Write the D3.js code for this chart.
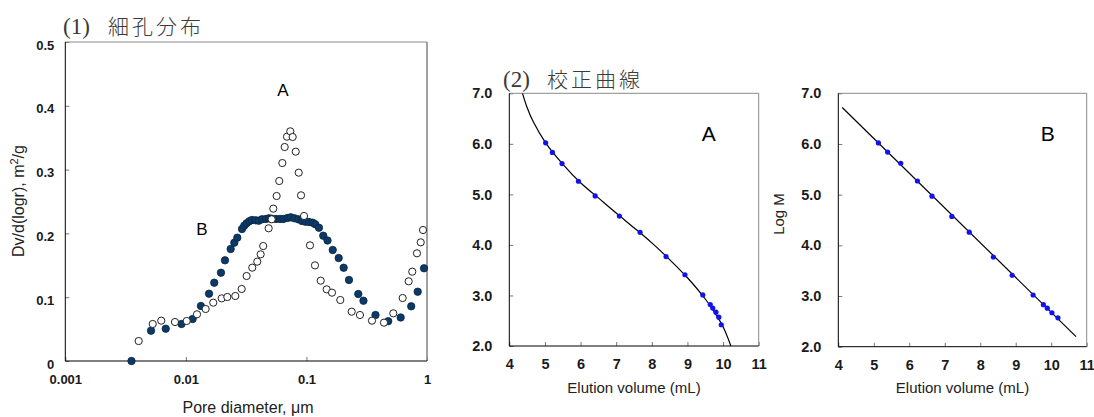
<!DOCTYPE html>
<html>
<head>
<meta charset="utf-8">
<script src="https://cdn.jsdelivr.net/npm/d3@7"></script>
<style>
  html, body { margin: 0; padding: 0; background: #fff; }
  svg { display: block; }
  .tick text { font-family: "Liberation Sans", Arial, sans-serif; font-weight: bold; fill: #1a1a1a; }
</style>
</head>
<body>
<svg id="fig" width="1094" height="417"></svg>
<script>
// ---- (1) pore size distribution ----
const poreTicks = [0.001, 0.01, 0.1, 1];
const poreTickLabels = ["0.001", "0.01", "0.1", "1"];
const distTicks = [0, 0.1, 0.2, 0.3, 0.4, 0.5];
const distTickLabels = ["0", "0.1", "0.2", "0.3", "0.4", "0.5"];

// sample B (filled circles)
const poreB = [0.00354, 0.00514, 0.00681, 0.00920, 0.01138, 0.01333, 0.01556, 0.0172, 0.01955, 0.0211,
  0.02353, 0.02522, 0.0267, 0.0292, 0.0305, 0.0319, 0.0336, 0.0353, 0.0379, 0.0402,
  0.0428, 0.0462, 0.0489, 0.0515, 0.0559, 0.0604, 0.0643, 0.0694, 0.0740, 0.0793,
  0.0855, 0.0918, 0.0981, 0.1049, 0.1127, 0.1184, 0.1270, 0.1379, 0.1496, 0.1652,
  0.1851, 0.2036, 0.2254, 0.2692, 0.2972, 0.3740, 0.4767, 0.6050, 0.7396, 0.8375, 0.9446];
const distB = [0, 0.0475, 0.0506, 0.0580, 0.0658, 0.0862, 0.1055, 0.1227, 0.1384, 0.1578,
  0.1755, 0.1854, 0.1933, 0.2069, 0.2121, 0.2158, 0.2190, 0.2210, 0.2205, 0.2199,
  0.2221, 0.2226, 0.2237, 0.2230, 0.2226, 0.2226, 0.2226, 0.2241, 0.2252, 0.2237,
  0.2221, 0.2194, 0.2183, 0.2179, 0.2168, 0.2143, 0.2089, 0.1964, 0.1889, 0.1740,
  0.1614, 0.1462, 0.1270, 0.1050, 0.0945, 0.0721, 0.0624, 0.0682, 0.0857, 0.1086, 0.1453];

// sample A (open circles)
const poreA = [0.00406, 0.00531, 0.00625, 0.00812, 0.01016, 0.01237, 0.01459, 0.01687, 0.01982, 0.02207,
  0.02570, 0.02904, 0.0319, 0.03554, 0.0391, 0.0417, 0.0438, 0.0486, 0.0515, 0.0531,
  0.0566, 0.0595, 0.0631, 0.0660, 0.0690, 0.0735, 0.0769, 0.0815, 0.0863, 0.0902,
  0.0955, 0.1070, 0.1177, 0.1313, 0.1472, 0.1629, 0.1909, 0.2373, 0.2780, 0.3497,
  0.4397, 0.5253, 0.6281, 0.7046, 0.7548, 0.8258, 0.8868, 0.9266];
const distA = [0.0313, 0.0580, 0.0632, 0.0611, 0.0627, 0.0732, 0.0815, 0.0914, 0.0982, 0.1003,
  0.1019, 0.1129, 0.1332, 0.1463, 0.1557, 0.1672, 0.1802, 0.2080, 0.2221, 0.2388,
  0.2586, 0.2821, 0.3103, 0.3354, 0.3516, 0.3600, 0.3511, 0.3281, 0.2952, 0.2597,
  0.2273, 0.1813, 0.1499, 0.1259, 0.1123, 0.1071, 0.0956, 0.0773, 0.0721, 0.0632,
  0.0601, 0.0747, 0.0987, 0.1249, 0.1400, 0.1688, 0.1860, 0.2053];

// ---- (2) calibration curves ----
const volTicks = [4, 5, 6, 7, 8, 9, 10, 11];
const logMTicks = [2, 3, 4, 5, 6, 7];
const logMTickLabels = ["2.0", "3.0", "4.0", "5.0", "6.0", "7.0"];

// column A: standards and fitted curve
const volA = [5.02, 5.21, 5.48, 5.94, 6.41, 7.09, 7.67, 8.40, 8.93, 9.43, 9.64, 9.71, 9.80, 9.88, 9.95];
const logMA = [6.02, 5.83, 5.61, 5.26, 4.97, 4.57, 4.25, 3.77, 3.41, 3.01, 2.82, 2.75, 2.67, 2.57, 2.42];
const fitVolA = [4.37, 4.5, 4.67, 5.02, 5.5, 6.0, 6.5, 7.0, 7.5, 8.0, 8.5, 9.0, 9.5, 9.8, 10.0, 10.22];
const fitLogMA = [7.0, 6.72, 6.44, 6.02, 5.60, 5.23, 4.93, 4.63, 4.34, 4.04, 3.71, 3.35, 2.93, 2.62, 2.38, 2.0];

// column B: standards and fitted line
const volB = [5.13, 5.39, 5.76, 6.23, 6.64, 7.20, 7.69, 8.37, 8.90, 9.49, 9.78, 9.89, 10.02, 10.19];
const logMB = [6.02, 5.84, 5.62, 5.27, 4.97, 4.57, 4.26, 3.77, 3.41, 3.02, 2.83, 2.76, 2.67, 2.57];
const fitVolB = [4.11, 10.70];
const fitLogMB = [6.72, 2.20];

const svg = d3.select("#fig");
const SANS = "'Liberation Sans', Arial, sans-serif";
const CJK = "'Noto Sans CJK JP', 'Noto Sans CJK SC', sans-serif";
const SERIF = "'Liberation Serif', 'DejaVu Serif', serif";

function frame(g, x0, x1, y0, y1, rightW) {
  g.append("line").attr("x1", x0).attr("x2", x1).attr("y1", y0).attr("y2", y0)
    .attr("stroke", "#8a8a8a").attr("stroke-width", 1);
  g.append("line").attr("x1", x1).attr("x2", x1).attr("y1", y0).attr("y2", y1)
    .attr("stroke", "#8a8a8a").attr("stroke-width", rightW || 1);
  g.append("line").attr("x1", x0).attr("x2", x0).attr("y1", y0).attr("y2", y1)
    .attr("stroke", "#000").attr("stroke-width", 1);
  g.append("line").attr("x1", x0).attr("x2", x1).attr("y1", y1).attr("y2", y1)
    .attr("stroke", "#000").attr("stroke-width", 1);
}

function styleAxis(g, size) {
  g.select(".domain").remove();
  g.selectAll(".tick line").attr("stroke", "#777");
  g.selectAll(".tick text").style("font-size", size + "px");
}

// panel heading: serif number in parentheses followed by the Japanese caption
function title(x, kx, y, num, kanji) {
  svg.append("text").attr("x", x).attr("y", y).attr("fill", "#3a3a3a")
    .style("font-family", SERIF).style("font-size", "23px").text(num);
  svg.append("text").attr("x", kx).attr("y", y).attr("fill", "#3a3a3a")
    .style("font-family", CJK).style("font-size", "21px").style("font-weight", "300")
    .style("letter-spacing", "3px").text(kanji);
}

// ===== Panel 1 =====
{
  const x = d3.scaleLog().domain([0.001, 1]).range([65.3, 427]);
  const y = d3.scaleLinear().domain([0, 0.5]).range([361, 42]);
  const g = svg.append("g");

  g.append("g").attr("transform", "translate(0,361)")
    .call(d3.axisBottom(x).tickValues(poreTicks).tickSize(-4).tickPadding(14)
      .tickFormat((d, i) => poreTickLabels[i]))
    .call(a => styleAxis(a, 13));
  g.append("g").attr("transform", "translate(65.3,0)")
    .call(d3.axisLeft(y).tickValues(distTicks).tickSize(-4).tickPadding(11)
      .tickFormat((d, i) => distTickLabels[i]))
    .call(a => styleAxis(a, 13))
    .selectAll(".tick text").attr("dy", "0.55em");

  frame(g, 65.3, 427, 42, 361, 1.6);

  g.append("g").selectAll("circle").data(poreB).join("circle")
    .attr("cx", d => x(d)).attr("cy", (d, i) => y(distB[i])).attr("r", 3.7)
    .attr("fill", "#0b3a68").attr("stroke", "#0a2440").attr("stroke-width", 0.8);
  g.append("g").selectAll("circle").data(poreA).join("circle")
    .attr("cx", d => x(d)).attr("cy", (d, i) => y(distA[i])).attr("r", 3.6)
    .attr("fill", "#fff").attr("stroke", "#222").attr("stroke-width", 1);

  g.append("text").attr("x", 283).attr("y", 96).attr("text-anchor", "middle")
    .style("font-family", SANS).style("font-size", "17px").text("A");
  g.append("text").attr("x", 202).attr("y", 235).attr("text-anchor", "middle")
    .style("font-family", SANS).style("font-size", "17px").text("B");

  g.append("text").attr("x", 248).attr("y", 413).attr("text-anchor", "middle")
    .style("font-family", SANS).style("font-size", "16px").attr("fill", "#222")
    .text("Pore diameter, μm");
  const yl = g.append("text").attr("transform", "translate(24,201) rotate(-90)")
    .attr("text-anchor", "middle").style("font-family", SANS).style("font-size", "16px")
    .attr("fill", "#222");
  yl.append("tspan").text("Dv/d(logr), m");
  yl.append("tspan").attr("dy", -6).style("font-size", "11px").text("2");
  yl.append("tspan").attr("dy", 6).text("/g");

  title(63, 108, 34, "(1)", "細孔分布");
}

// ===== Panels 2 and 3 =====
function calib(x0, x1, y0, y1, vols, logs, fitV, fitL, letter, curved, labelX, clipLeft) {
  const x = d3.scaleLinear().domain([4, 11]).range([x0, x1]);
  const y = d3.scaleLinear().domain([2, 7]).range([y1, y0]);
  const g = svg.append("g");

  g.append("g").attr("transform", `translate(0,${y1})`)
    .call(d3.axisBottom(x).tickValues(volTicks).tickSize(-4).tickPadding(13).tickFormat(d3.format("d")))
    .call(a => styleAxis(a, 14.5));
  g.append("g").attr("transform", `translate(${x0},0)`)
    .call(d3.axisLeft(y).tickValues(logMTicks).tickSize(-4).tickPadding(17)
      .tickFormat((d, i) => logMTickLabels[i]))
    .call(a => styleAxis(a, 14.5));

  frame(g, x0, x1, y0, y1, 1);

  const line = d3.line().x((d, i) => x(fitV[i])).y((d, i) => y(fitL[i]))
    .curve(curved ? d3.curveCatmullRom.alpha(0.5) : d3.curveLinear);
  g.append("path").datum(fitV).attr("d", line).attr("fill", "none")
    .attr("stroke", "#000").attr("stroke-width", 1.2);

  g.append("g").selectAll("circle").data(vols).join("circle")
    .attr("cx", d => x(d)).attr("cy", (d, i) => y(logs[i])).attr("r", 2.6)
    .attr("fill", "#1212f0");

  g.append("text").attr("x", x(labelX)).attr("y", 141).attr("text-anchor", "middle")
    .style("font-family", SANS).style("font-size", "21px").text(letter);

  g.append("text").attr("x", (x0 + x1) / 2).attr("y", 393).attr("text-anchor", "middle")
    .style("font-family", SANS).style("font-size", "15px").attr("fill", "#222")
    .text("Elution volume (mL)");

  const lab = g.append("text").attr("transform", `translate(${x0 - 54},214) rotate(-90)`)
    .attr("text-anchor", "middle").style("font-family", SANS).style("font-size", "15px")
    .attr("fill", "#222").text("Log M");
  if (clipLeft) {
    const id = "clip" + letter;
    svg.append("clipPath").attr("id", id).append("rect")
      .attr("x", clipLeft).attr("y", 0).attr("width", 100).attr("height", 417);
    lab.attr("clip-path", `url(#${id})`);
  }
}

calib(509.3, 758.7, 93.3, 346, volA, logMA, fitVolA, fitLogMA, "A", true, 9.6, 459);
calib(838.3, 1086.7, 93.3, 346.7, volB, logMB, fitVolB, fitLogMB, "B", false, 9.9, null);

title(503, 547, 87, "(2)", "校正曲線");
</script>
</body>
</html>
